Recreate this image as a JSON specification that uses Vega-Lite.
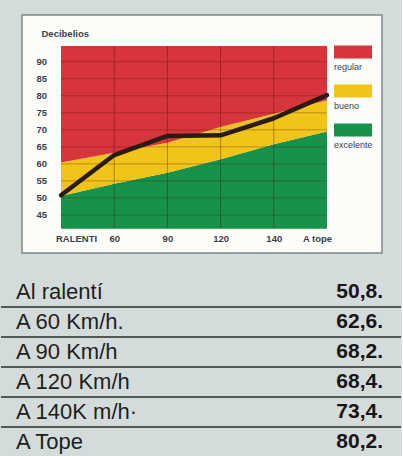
{
  "$schema": "https://vega.github.io/schema/vega-lite/v6.json",
  "background": "#d4dbdb",
  "padding": {"left": 0, "top": 14, "right": 0, "bottom": 0},
  "bounds": "flush",
  "spacing": 10,
  "config": {"font": "Liberation Sans", "view": {"stroke": null}},
  "datasets": {
    "noise": [
      {"pos": 0, "label": "Al ralentí", "dB": 50.8, "shown": "50,8."},
      {"pos": 1, "label": "A 60 Km/h.", "dB": 62.6, "shown": "62,6."},
      {"pos": 2, "label": "A 90 Km/h", "dB": 68.2, "shown": "68,2."},
      {"pos": 3, "label": "A 120 Km/h", "dB": 68.4, "shown": "68,4."},
      {"pos": 4, "label": "A 140K m/h·", "dB": 73.4, "shown": "73,4."},
      {"pos": 5, "label": "A Tope", "dB": 80.2, "shown": "80,2."}
    ],
    "zones": [
      {"pos": 0, "zone": "excelente", "lo": 41, "hi": 50.6},
      {"pos": 1, "zone": "excelente", "lo": 41, "hi": 54.2},
      {"pos": 2, "zone": "excelente", "lo": 41, "hi": 57.4},
      {"pos": 3, "zone": "excelente", "lo": 41, "hi": 61.4},
      {"pos": 4, "zone": "excelente", "lo": 41, "hi": 65.8},
      {"pos": 5, "zone": "excelente", "lo": 41, "hi": 69.5},
      {"pos": 0, "zone": "bueno", "lo": 50.6, "hi": 60.4},
      {"pos": 1, "zone": "bueno", "lo": 54.2, "hi": 63.3},
      {"pos": 2, "zone": "bueno", "lo": 57.4, "hi": 66.2},
      {"pos": 3, "zone": "bueno", "lo": 61.4, "hi": 70.8},
      {"pos": 4, "zone": "bueno", "lo": 65.8, "hi": 74.7},
      {"pos": 5, "zone": "bueno", "lo": 69.5, "hi": 78.7},
      {"pos": 0, "zone": "regular", "lo": 60.4, "hi": 94.6},
      {"pos": 1, "zone": "regular", "lo": 63.3, "hi": 94.6},
      {"pos": 2, "zone": "regular", "lo": 66.2, "hi": 94.6},
      {"pos": 3, "zone": "regular", "lo": 70.8, "hi": 94.6},
      {"pos": 4, "zone": "regular", "lo": 74.7, "hi": 94.6},
      {"pos": 5, "zone": "regular", "lo": 78.7, "hi": 94.6}
    ],
    "gridH": [{"v": 45}, {"v": 50}, {"v": 55}, {"v": 60}, {"v": 65}, {"v": 70}, {"v": 75}, {"v": 80}, {"v": 85}, {"v": 90}],
    "gridV": [{"v": 1}, {"v": 2}, {"v": 3}, {"v": 4}]
  },
  "vconcat": [
    {
      "width": 360,
      "height": 238,
      "view": {"fill": "#fcfcf9", "stroke": "#7f8686", "strokeWidth": 1.5},
      "layer": [
        {
          "data": {"name": "zones"},
          "mark": {"type": "area", "orient": "vertical", "opacity": 1},
          "encoding": {
            "x": {
              "field": "pos", "type": "quantitative",
              "scale": {"domain": [-0.733, 6.034], "nice": false, "zero": false},
              "axis": {
                "values": [0, 1, 2, 3, 4, 5],
                "labelExpr": "['RALENTI','60','90','120','140','A tope'][datum.value]",
                "orient": "bottom", "offset": -22, "domain": false, "ticks": false, "grid": false,
                "labelPadding": 2, "labelFontSize": 9.5, "labelFontWeight": "bold", "labelColor": "#3a3f4a",
                "labelOverlap": false,
                "labelOffset": {"condition": [{"test": "datum.value == 0", "value": 15}, {"test": "datum.value == 5", "value": -10}], "value": 0},
                "title": null
              }
            },
            "y": {
              "field": "lo", "type": "quantitative",
              "scale": {"domain": [33.85, 103.7], "nice": false, "zero": false},
              "axis": {
                "values": [90],
                "orient": "left", "offset": -27, "domain": false, "ticks": false, "grid": false, "labels": false,
                "title": "Decibelios", "titleAngle": 0, "titleAlign": "left", "titleBaseline": "middle",
                "titleX": -8, "titleY": 18, "titleFontSize": 9.5, "titleFontWeight": "bold", "titleColor": "#3a3f4a"
              }
            },
            "y2": {"field": "hi"},
            "color": {
              "field": "zone", "type": "nominal",
              "scale": {"domain": ["regular", "bueno", "excelente"], "range": ["#d6353b", "#f0c419", "#17924b"]},
              "legend": {
                "orient": "none", "legendX": 312, "legendY": 47, "title": null, "padding": 0,
                "symbolType": "M-1,-4.3H6.6V-1.7H-1Z", "symbolSize": 100, "symbolStrokeWidth": 0, "symbolOpacity": 1,
                "labelOffset": -10, "labelFontSize": 9, "labelColor": "#3a3f4a", "rowPadding": 12
              }
            }
          }
        },
        {
          "data": {"name": "gridH"},
          "mark": {"type": "rule", "color": "#4a0f0a", "opacity": 0.3, "strokeWidth": 1},
          "encoding": {"y": {"field": "v", "type": "quantitative"}, "x": {"datum": 0}, "x2": {"datum": 5}}
        },
        {
          "data": {"name": "gridH"},
          "mark": {"type": "text", "align": "right", "baseline": "middle", "fontSize": 9.5, "fontWeight": "bold", "color": "#3a3f4a"},
          "encoding": {"y": {"field": "v", "type": "quantitative"}, "x": {"datum": -0.263}, "text": {"field": "v", "type": "quantitative"}}
        },
        {
          "data": {"name": "gridV"},
          "mark": {"type": "rule", "color": "#3a0a05", "opacity": 0.35, "strokeWidth": 1},
          "encoding": {"x": {"field": "v", "type": "quantitative"}, "y": {"datum": 41}, "y2": {"datum": 94.6}}
        },
        {
          "data": {"name": "noise"},
          "mark": {"type": "line", "color": "#2a1c14", "strokeWidth": 4.5, "strokeJoin": "round", "strokeCap": "round"},
          "encoding": {"x": {"field": "pos", "type": "quantitative"}, "y": {"field": "dB", "type": "quantitative"}}
        }
      ]
    },
    {
      "width": 360,
      "height": 194,
      "data": {"name": "noise"},
      "encoding": {
        "y": {"field": "label", "type": "nominal", "sort": null,
              "scale": {"type": "band", "paddingInner": 0, "paddingOuter": 0.233, "align": 1}, "axis": null}
      },
      "layer": [
        {
          "transform": [{"filter": "datum.pos < 5"}],
          "mark": {"type": "rule", "color": "#2b2b2b", "strokeWidth": 1.6},
          "encoding": {
            "y": {"field": "label", "type": "nominal", "sort": null, "bandPosition": 1},
            "x": {"datum": -5.83, "type": "quantitative", "scale": {"domain": [0, 100], "nice": false, "zero": false}, "axis": null},
            "x2": {"datum": 105.3}
          }
        },
        {
          "mark": {"type": "text", "align": "left", "baseline": "middle", "dx": -6, "fontSize": 22, "color": "#1e1e1e"},
          "encoding": {"x": {"datum": 0, "type": "quantitative"}, "text": {"field": "label"}}
        },
        {
          "mark": {"type": "text", "align": "right", "baseline": "middle", "dx": 1, "fontSize": 21, "fontWeight": "bold", "color": "#161616"},
          "encoding": {"x": {"datum": 100, "type": "quantitative"}, "text": {"field": "shown"}}
        }
      ]
    }
  ]
}
